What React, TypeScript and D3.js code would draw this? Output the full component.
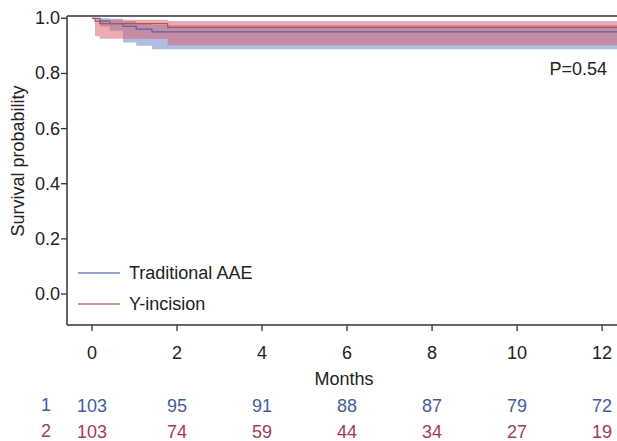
import React from "react";
import * as d3 from "d3";

const blueTimes = [0, 0.19, 0.42, 0.73, 1.04, 1.41];
const blueSurv = [1, 0.990, 0.981, 0.971, 0.961, 0.951];
const blueLower = [1, 0.97, 0.955, 0.912, 0.9, 0.888];
const blueUpper = [1, 1.0, 0.998, 0.99, 0.983, 0.976];

const redTimes = [0, 0.07, 0.18, 1.78];
const redSurv = [1, 0.99, 0.981, 0.967];
const redLower = [1, 0.935, 0.926, 0.902];
const redUpper = [1, 0.998, 0.995, 0.99];

const xTicks = [0, 2, 4, 6, 8, 10, 12];
const yTicks = [0, 0.2, 0.4, 0.6, 0.8, 1.0];
const riskGroup1 = [103, 95, 91, 88, 87, 79, 72];
const riskGroup2 = [103, 74, 59, 44, 34, 27, 19];
const seriesNames = ["Traditional AAE", "Y-incision"];
const pValueText = "P=0.54";

const W = 617;
const H = 441;
const left = 67;
const right = 617;
const top = 16;
const bottom = 325;
const font = "'Liberation Sans', Arial, Helvetica, sans-serif";
const FS = 18;

const BLUE_LINE = "#5565a5";
const RED_LINE = "#b5524f";
const BLUE_FILL = "rgb(100,130,200)";
const RED_FILL = "rgb(215,90,100)";
const BLUE_TEXT = "#3f5d9c";
const RED_TEXT = "#a23d4e";

export default function App() {
  const x = d3.scaleLinear().domain([-0.588, 12.35]).range([left, right]);
  const y = d3.scaleLinear().domain([0, 1]).range([294, 18.3]);
  const xEnd = x.domain()[1];

  const mk = (times: number[], s: number[], lo: number[], hi: number[]) => {
    const pts = times.map((t, i) => ({ t, s: s[i], lo: lo[i], hi: hi[i] }));
    const last = pts[pts.length - 1];
    pts.push({ ...last, t: xEnd });
    return pts;
  };
  const blue = mk(blueTimes, blueSurv, blueLower, blueUpper);
  const red = mk(redTimes, redSurv, redLower, redUpper);

  type P = { t: number; s: number; lo: number; hi: number };
  const area = d3
    .area<P>()
    .x((d) => x(d.t))
    .y0((d) => y(d.lo))
    .y1((d) => y(d.hi))
    .curve(d3.curveStepAfter);
  const line = d3
    .line<P>()
    .x((d) => x(d.t))
    .y((d) => y(d.s))
    .curve(d3.curveStepAfter);

  return (
    <svg
      width={W}
      height={H}
      style={{ position: "absolute", left: 0, top: 0, background: "#fff" }}
      fontFamily={font}
    >
      <rect x={0} y={0} width={W} height={H} fill="#fff" />
      <path d={area(blue) || ""} fill={BLUE_FILL} fillOpacity={0.52} />
      <path d={area(red) || ""} fill={RED_FILL} fillOpacity={0.5} />
      <path d={line(blue) || ""} fill="none" stroke={BLUE_LINE} strokeWidth={1.3} />
      <path d={line(red) || ""} fill="none" stroke={RED_LINE} strokeWidth={1.3} />

      {/* frame */}
      <line x1={left} x2={right} y1={top} y2={top} stroke="#333" strokeWidth={1.5} />
      <line x1={left} x2={left} y1={top} y2={bottom} stroke="#333" strokeWidth={1.5} />
      <line x1={left} x2={right} y1={bottom} y2={bottom} stroke="#333" strokeWidth={1.5} />

      {/* y axis */}
      {yTicks.map((v) => (
        <g key={v}>
          <line x1={left - 6} x2={left} y1={y(v)} y2={y(v)} stroke="#333" strokeWidth={1.3} />
          <text
            x={left - 7}
            y={y(v)}
            textAnchor="end"
            dominantBaseline="central"
            fontSize={FS}
            fill="#222"
          >
            {v.toFixed(1)}
          </text>
        </g>
      ))}
      <text
        transform={`translate(18,161) rotate(-90)`}
        textAnchor="middle"
        dominantBaseline="central"
        fontSize={FS}
        fill="#222"
      >
        Survival probability
      </text>

      {/* x axis */}
      {xTicks.map((v) => (
        <g key={v}>
          <line x1={x(v)} x2={x(v)} y1={bottom} y2={bottom + 6} stroke="#333" strokeWidth={1.3} />
          <text
            x={x(v)}
            y={353}
            textAnchor="middle"
            dominantBaseline="central"
            fontSize={FS}
            fill="#222"
          >
            {v}
          </text>
        </g>
      ))}
      <text x={344} y={379} textAnchor="middle" dominantBaseline="central" fontSize={FS} fill="#222">
        Months
      </text>

      {/* P value */}
      <text x={607} y={69} textAnchor="end" dominantBaseline="central" fontSize={FS} fill="#222">
        {pValueText}
      </text>

      {/* legend */}
      <line x1={78} x2={120} y1={273} y2={273} stroke="#7080bb" strokeWidth={1.5} />
      <text x={129} y={273} dominantBaseline="central" fontSize={FS} fill="#222">
        {seriesNames[0]}
      </text>
      <line x1={78} x2={120} y1={304} y2={304} stroke="#c8735f" strokeWidth={1.5} />
      <text x={129} y={304} dominantBaseline="central" fontSize={FS} fill="#222">
        {seriesNames[1]}
      </text>

      {/* risk table */}
      <text x={46} y={405} textAnchor="middle" dominantBaseline="central" fontSize={FS} fill={BLUE_TEXT}>
        1
      </text>
      <text x={46} y={431} textAnchor="middle" dominantBaseline="central" fontSize={FS} fill={RED_TEXT}>
        2
      </text>
      {xTicks.map((v, i) => (
        <g key={"r" + v}>
          <text x={x(v)} y={406} textAnchor="middle" dominantBaseline="central" fontSize={FS} fill={BLUE_TEXT}>
            {riskGroup1[i]}
          </text>
          <text x={x(v)} y={432} textAnchor="middle" dominantBaseline="central" fontSize={FS} fill={RED_TEXT}>
            {riskGroup2[i]}
          </text>
        </g>
      ))}
    </svg>
  );
}
